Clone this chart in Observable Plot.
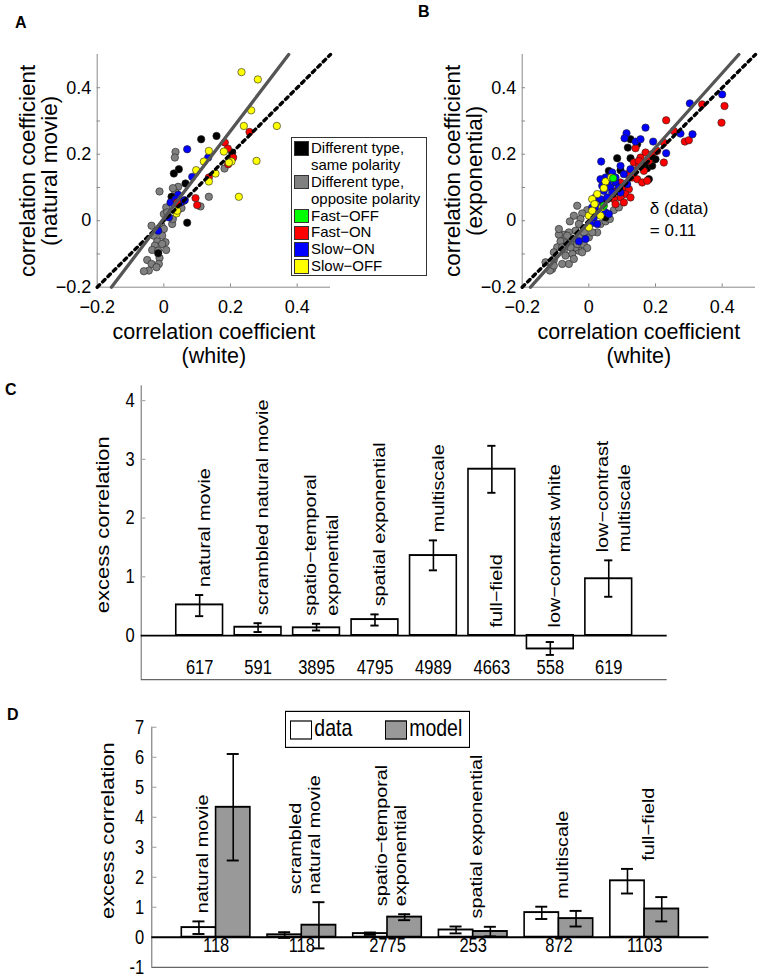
<!DOCTYPE html>
<html><head><meta charset="utf-8">
<script src="https://cdn.jsdelivr.net/npm/d3@7"></script>
<script src="https://cdn.jsdelivr.net/npm/@observablehq/plot@0.6"></script>
<style>
html,body{margin:0;padding:0;background:#fff;}
#page{position:relative;width:759px;height:977px;overflow:hidden;background:#fff;font-family:"Liberation Sans",Arial,Helvetica,sans-serif;color:#000;}
.letter{position:absolute;font-weight:bold;font-size:16px;line-height:1;}
</style></head><body><div id="page"></div>
<script>
// ---------------- DATA ----------------
const groupNames = ["Different type,\nsame polarity", "Different type,\nopposite polarity", "Fast−OFF", "Fast−ON", "Slow−ON", "Slow−OFF"];
const groupColors = ["#000000", "#808080", "#00ff00", "#ff0000", "#0000ff", "#ffff00"];

// Panel A: white vs natural movie correlation coefficients [x, y]
const aBlack = [[0.112,0.245],[0.158,0.255],[0.045,0.155],[0.03,0.142],[0.065,0.112],[0.07,-0.006],[0.023,0.072],[0.205,0.205],[-0.017,-0.098],[0.06,0.06]];
const aGray = [[0.035,0.207],[0.033,0.19],[-0.013,0.088],[0.043,0.102],[0.135,0.072],[0.182,0.157],[0.11,0.043],[0.033,0.052],[0.007,0.04],[0.025,-0.01],[0,0.02],[-0.037,-0.015],[-0.007,-0.015],[0,-0.025],[-0.03,-0.045],[-0.005,-0.045],[-0.02,-0.062],[0.005,-0.065],[-0.027,-0.075],[-0.005,-0.07],[0.007,-0.088],[-0.035,-0.088],[-0.017,-0.09],[-0.05,-0.118],[-0.013,-0.112],[-0.037,-0.13],[-0.015,-0.13],[-0.022,-0.14],[-0.045,-0.15],[-0.06,-0.152],[0.035,0.085],[0.027,0.098],[0.045,0.035],[0.01,0.025],[0.053,0.038],[0.027,0.005]];
const aGreen = [];
const aRed = [[0.257,0.267],[0.183,0.235],[0.192,0.217],[0.208,0.19],[0.193,0.17],[0.095,0.068],[0.10,0.047],[0.135,0.13],[0.04,0.055]];
const aBlue = [[0.07,0.215],[0.085,0.132],[0.133,0.19],[0.043,0.078],[0.063,0.062],[0.02,0.055],[0.015,0.01],[-0.017,-0.03],[0.05,0.055],[0.035,0.065]];
const aYellow = [[0.233,0.447],[0.282,0.425],[0.262,0.332],[0.24,0.285],[0.339,0.285],[0.135,0.21],[0.18,0.208],[0.12,0.178],[0.097,0.152],[0.155,0.142],[0.135,0.118],[0.203,0.178],[0.195,0.175],[0.278,0.18],[0.225,0.072],[0.038,0.022],[0.04,0.03]];
const fitA = {slope: 1.316, intercept: 0.007};

// Panel B: white vs exponential correlation coefficients [x, y]
const bBlack = [[0.085,0.188],[0.060,0.150],[0.125,0.188],[0.117,0.220],[0.145,0.230],[0.175,0.158],[0.180,0.125],[0.190,0.165],[0.095,0.152],[0.125,0.245],[0.010,0.020],[0.050,0.010],[0.040,0.060],[0.160,0.170],[0.200,0.185]];
const bGray = [[-0.035,0.045],[-0.005,0.032],[-0.020,0.022],[-0.025,0.005],[-0.045,0.015],[-0.057,-0.002],[-0.030,-0.010],[-0.010,-0.022],[-0.040,-0.030],[-0.060,-0.035],[-0.075,-0.042],[-0.090,-0.042],[-0.085,-0.062],[-0.065,-0.065],[-0.045,-0.058],[-0.025,-0.050],[-0.015,-0.072],[-0.005,-0.082],[-0.030,-0.090],[-0.050,-0.100],[-0.075,-0.090],[-0.095,-0.080],[-0.105,-0.095],[-0.105,-0.118],[-0.110,-0.145],[-0.117,-0.150],[-0.060,-0.130],[-0.045,-0.115],[-0.020,-0.095],[-0.040,-0.080],[-0.070,-0.105],[-0.080,-0.080],[-0.055,-0.080],[0.000,-0.050],[0.025,-0.035],[0.035,-0.010],[0.050,-0.002],[0.063,0.005],[0.075,0.032],[0.090,0.040],[0.010,-0.035],[-0.105,-0.135],[-0.130,-0.125],[-0.090,-0.025],[-0.015,-0.035],[-0.035,-0.070],[-0.065,-0.045],[-0.080,-0.130]];
const bGreen = [[0.073,0.128],[0.045,0.045]];
const bRed = [[0.407,0.345],[0.398,0.295],[0.340,0.350],[0.232,0.302],[0.255,0.270],[0.288,0.238],[0.300,0.242],[0.225,0.235],[0.225,0.175],[0.140,0.218],[0.170,0.205],[0.155,0.190],[0.135,0.175],[0.180,0.180],[0.150,0.165],[0.165,0.150],[0.115,0.140],[0.130,0.130],[0.145,0.125],[0.095,0.115],[0.105,0.100],[0.120,0.095],[0.085,0.090],[0.110,0.080],[0.095,0.070],[0.125,0.070],[0.105,0.055],[0.075,0.065],[0.160,0.115],[0.175,0.120],[0.080,0.050],[0.190,0.200],[0.205,0.210],[0.135,0.150],[0.150,0.180]];
const bBlue = [[0.400,0.380],[0.303,0.353],[0.311,0.260],[0.275,0.262],[0.232,0.203],[0.193,0.238],[0.170,0.280],[0.113,0.263],[0.107,0.248],[0.140,0.238],[0.155,0.245],[0.037,0.178],[0.095,0.165],[0.070,0.145],[0.050,0.130],[0.057,0.115],[0.080,0.115],[0.040,0.105],[0.065,0.100],[0.090,0.100],[0.045,0.090],[0.070,0.085],[0.020,0.070],[0.035,0.065],[0.055,0.070],[0.095,0.085],[0.115,0.110],[0.010,0.040],[0.030,0.040],[0.050,0.025],[0.015,0.010],[0.025,-0.010],[-0.010,-0.055],[-0.030,-0.062],[0.060,0.020],[0.080,0.130],[0.105,0.140],[0.125,0.155],[0.035,0.125],[0.005,-0.010]];
const bYellow = [[0.050,0.118],[0.067,0.130],[0.025,0.080],[0.010,0.065],[0.017,0.050],[0.040,0.040],[0.000,0.015],[0.035,0.015],[0.000,-0.020],[0.010,0.030],[0.045,0.098]];
const fitB = {slope: 1.12, intercept: -0.004};
const noteB = {text: "δ (data)\n= 0.11", x: 0.183, y: 0.008};

// Axis ticks for A and B
const scatterDomain = [-0.2, 0.5];
const scatterTickLabels = [-0.2, 0, 0.2, 0.4];
const scatterXTickMarks = [0, 0.2, 0.4];
const scatterYTickMarks = [-0.1, 0, 0.1, 0.2, 0.3, 0.4];

// Panel C
const cCategories = ["natural movie", "scrambled natural movie", "spatio−temporal\nexponential", "spatial exponential", "multiscale", "full−field", "low−contrast white", "low−contrast\nmultiscale"];
const cValues = [0.52, 0.14, 0.13, 0.27, 1.36, 2.83, -0.23, 0.965];
const cErrLow = [0.33, 0.06, 0.085, 0.17, 1.11, 2.43, -0.33, 0.66];
const cErrHigh = [0.69, 0.21, 0.20, 0.36, 1.62, 3.23, -0.11, 1.28];
const cN = [617, 591, 3895, 4795, 4989, 4663, 558, 619];
const cYTicks = [0, 1, 2, 3, 4];

// Panel D
const dCategories = ["natural movie", "scrambled\nnatural movie", "spatio−temporal\nexponential", "spatial exponential", "multiscale", "full−field"];
const dData = [0.32, 0.08, 0.12, 0.24, 0.82, 1.88];
const dDataLow = [0.11, -0.02, 0.08, 0.13, 0.61, 1.46];
const dDataHigh = [0.53, 0.17, 0.16, 0.36, 1.02, 2.28];
const dModel = [4.33, 0.40, 0.67, 0.19, 0.62, 0.94];
const dModelLow = [2.56, -0.37, 0.57, 0.03, 0.36, 0.53];
const dModelHigh = [6.11, 1.17, 0.77, 0.35, 0.88, 1.34];
const dN = [118, 118, 2775, 253, 872, 1103];
const dYTicks = [-1, 0, 1, 2, 3, 4, 5, 6, 7];
const dSeries = ["data", "model"];
const dSeriesFill = ["#ffffff", "#999999"];

// ---------------- DRAWING ----------------
const FONT = "'Liberation Sans', Arial, Helvetica, sans-serif";
const page = document.getElementById("page");
const S = 1.2; // vertical stretch of the lower panels

function put(node, left, top, parent = page) {
  node.style.position = "absolute";
  node.style.left = left + "px";
  node.style.top = top + "px";
  parent.appendChild(node);
  return node;
}
function letter(t, left, top) {
  const d = document.createElement("div");
  d.className = "letter"; d.textContent = t;
  put(d, left, top);
}

const fmt = d => d === 0 ? "0" : d3.format(".1f")(d);

function scatter({groups, fit, yTitle, width, marginLeft, marginRight, note}) {
  const lo = scatterDomain[0];
  const tickLen = 0.01;
  const marks = [
    Plot.ruleX([lo], {stroke: "#888", strokeWidth: 1}),
    Plot.ruleY([lo], {stroke: "#888", strokeWidth: 1}),
    Plot.ruleY(scatterYTickMarks, {y: d => d, x1: lo, x2: lo + tickLen, stroke: "#888"}),
    Plot.ruleX(scatterXTickMarks, {x: d => d, y1: lo, y2: lo + tickLen, stroke: "#888"})
  ];
  for (const g of groups) {
    marks.push(Plot.dot(g.points, {x: d => d[0], y: d => d[1], r: 3.7, fill: g.color, stroke: "#222", strokeWidth: 0.6}));
  }
  marks.push(Plot.line(scatterDomain.map(v => [v, v]), {x: d => d[0], y: d => d[1], stroke: "#000", strokeWidth: 3.4, strokeDasharray: "3.4,4.2"}));
  marks.push(Plot.line(scatterDomain.map(v => [(v - fit.intercept) / fit.slope, v]), {x: d => d[0], y: d => d[1], stroke: "#555", strokeWidth: 3.3}));
  marks.push(Plot.axisY(scatterTickLabels, {tickSize: 0, tickPadding: 6, tickFormat: fmt, fontSize: 18}));
  marks.push(Plot.axisX(scatterTickLabels, {tickSize: 0, tickPadding: 13.5, tickFormat: fmt, fontSize: 18}));
  marks.push(Plot.text(["correlation coefficient\n(white)"], {frameAnchor: "bottom", text: d => d, lineAnchor: "top", dy: 34.3, lineHeight: 1.12, fontSize: 21.5}));
  marks.push(Plot.text([yTitle], {frameAnchor: "left", text: d => d, rotate: -90, textAnchor: "middle", lineAnchor: "top", dx: -77, lineHeight: 0.95, fontSize: 22.5}));
  if (note) marks.push(Plot.text([note], {x: "x", y: "y", text: "text", textAnchor: "start", lineAnchor: "middle", lineHeight: 1.27, fontSize: 17}));
  return Plot.plot({
    width, height: 366, marginLeft, marginRight, marginTop: 54, marginBottom: 79.3,
    x: {domain: scatterDomain, label: null},
    y: {domain: scatterDomain, label: null},
    style: {background: "transparent", fontFamily: FONT, overflow: "visible"},
    marks
  });
}

const aGroups = [aGray, aBlack, aBlue, aRed, aYellow, aGreen].map((p, i) => ({points: p, color: groupColors[[1, 0, 4, 3, 5, 2][i]]}));
const bGroups = [bGray, bBlack, bRed, bBlue, bYellow, bGreen].map((p, i) => ({points: p, color: groupColors[[1, 0, 3, 4, 5, 2][i]]}));

put(scatter({groups: aGroups, fit: fitA, yTitle: "correlation coefficient\n(natural movie)", width: 345, marginLeft: 96.7, marginRight: 15}), 0, 0);
put(scatter({groups: bGroups, fit: fitB, yTitle: "correlation coefficient\n(exponential)", width: 379, marginLeft: 141.7, marginRight: 4, note: noteB}), 380, 0);

// Legend of panel A
{
  const box = document.createElement("div");
  Object.assign(box.style, {width: "136px", height: "139.5px", boxSizing: "border-box", border: "1px solid #333", background: "#fff", paddingTop: "2.2px", fontSize: "15px", zIndex: 5});
  groupNames.forEach((name, i) => {
    const row = document.createElement("div");
    Object.assign(row.style, {display: "flex", alignItems: "flex-start", lineHeight: "16.9px"});
    const sw = document.createElement("div");
    Object.assign(sw.style, {width: "14.7px", height: "14.7px", boxSizing: "border-box", border: "1px solid #333", background: groupColors[i], marginLeft: "2.3px", marginTop: "1.1px", flex: "none"});
    const tx = document.createElement("div");
    Object.assign(tx.style, {whiteSpace: "pre", marginLeft: "2px"});
    tx.textContent = name;
    row.appendChild(sw); row.appendChild(tx);
    box.appendChild(row);
  });
  put(box, 291, 136.7);
}

// ---- Panel C ----
function stretched(top, h) {
  const w = document.createElement("div");
  Object.assign(w.style, {width: "759px", height: h + "px", transform: `scaleY(${S})`, transformOrigin: "0 0"});
  return put(w, 0, top);
}
{
  const rows = cCategories.map((c, i) => ({pos: i + 1, text: c, value: cValues[i], lo: cErrLow[i], hi: cErrHigh[i]}));
  // labels sit above the error bar; when there is no room above, inside the bar from zero
  const labels = rows.map(r => ({pos: r.pos, text: r.text, y: r.hi > 3 ? 0 : Math.max(r.hi, 0)}));
  const cap = 0.07, sw = 1.6;
  const H = 261.5;
  const svg = Plot.plot({
    width: 759, height: H, marginLeft: 140.7, marginRight: 92.3, marginTop: 12.75, marginBottom: 4,
    x: {domain: [0, 9], label: null},
    y: {domain: [-0.75, 4.25], label: null},
    style: {background: "transparent", fontFamily: FONT, overflow: "visible"},
    marks: [
      Plot.ruleX([0], {stroke: "#666"}),
      Plot.ruleY([-0.75], {stroke: "#666"}),
      Plot.ruleY(cYTicks.slice(1), {y: d => d, x1: 0, x2: 0.08, stroke: "#aaa"}),
      Plot.rect(rows, {x1: d => d.pos - 0.4, x2: d => d.pos + 0.4, y1: 0, y2: "value", fill: "#fff", stroke: "#000", strokeWidth: sw}),
      Plot.ruleY([0], {stroke: "#000", strokeWidth: 1.4}),
      Plot.ruleX(rows, {x: "pos", y1: "lo", y2: "hi", stroke: "#000", strokeWidth: sw}),
      Plot.ruleY(rows, {y: "lo", x1: d => d.pos - cap, x2: d => d.pos + cap, stroke: "#000", strokeWidth: sw}),
      Plot.ruleY(rows, {y: "hi", x1: d => d.pos - cap, x2: d => d.pos + cap, stroke: "#000", strokeWidth: sw}),
      Plot.text(labels, {x: "pos", y: "y", text: "text", rotate: -90, textAnchor: "start", lineAnchor: "middle", dx: 3, dy: -6.7, fontSize: 16.5, lineHeight: 1.36}),
      Plot.axisY(cYTicks, {tickSize: 0, tickPadding: 6.4, fontSize: 16.5, tickFormat: d => String(d)}),
      Plot.axisX(rows.map(r => r.pos), {tickSize: 0, tickPadding: -10.25, lineAnchor: "middle", fontSize: 16.5, tickFormat: d => String(cN[d - 1])}),
      Plot.text(["excess correlation"], {frameAnchor: "left", text: d => d, rotate: -90, textAnchor: "middle", lineAnchor: "middle", dx: -37.7, dy: -6.7, fontSize: 18.3})
    ]
  });
  const w = stretched(370, H);
  w.appendChild(svg);
}

// ---- Panel D ----
{
  const bars = [];
  dCategories.forEach((c, i) => {
    const pos = i + 1;
    bars.push({pos, x1: pos - 0.4, x2: pos, xc: pos - 0.2, value: dData[i], lo: dDataLow[i], hi: dDataHigh[i], fill: dSeriesFill[0]});
    bars.push({pos, x1: pos, x2: pos + 0.4, xc: pos + 0.2, value: dModel[i], lo: dModelLow[i], hi: dModelHigh[i], fill: dSeriesFill[1]});
  });
  // label over both bars, or only over the data bar when the model bar towers above it
  const labels = dCategories.map((c, i) => {
    const overData = dModelHigh[i] - dDataHigh[i] > 2;
    return {x: overData ? i + 1 - 0.2 : i + 1, y: overData ? dDataHigh[i] : Math.max(dDataHigh[i], dModelHigh[i]), text: c};
  });
  const cap = 0.07, sw = 1.6;
  const H = 228.25;
  const svg = Plot.plot({
    width: 759, height: H, marginLeft: 151.3, marginRight: 50.6, marginTop: 22.25, marginBottom: 6,
    x: {domain: [0.25, 6.75], label: null},
    y: {domain: [-1, 7], label: null},
    style: {background: "transparent", fontFamily: FONT, overflow: "visible"},
    marks: [
      Plot.ruleX([0.25], {stroke: "#666"}),
      Plot.ruleY([-1], {stroke: "#666"}),
      Plot.ruleY(dYTicks.slice(2), {y: d => d, x1: 0.25, x2: 0.31, stroke: "#aaa"}),
      Plot.rect(bars, {x1: "x1", x2: "x2", y1: 0, y2: "value", fill: d => d.fill, stroke: "#000", strokeWidth: sw}),
      Plot.ruleY([0], {stroke: "#000", strokeWidth: 1.7}),
      Plot.ruleX(bars, {x: "xc", y1: "lo", y2: "hi", stroke: "#000", strokeWidth: sw}),
      Plot.ruleY(bars, {y: "lo", x1: d => d.xc - cap, x2: d => d.xc + cap, stroke: "#000", strokeWidth: sw}),
      Plot.ruleY(bars, {y: "hi", x1: d => d.xc - cap, x2: d => d.xc + cap, stroke: "#000", strokeWidth: sw}),
      Plot.text(labels, {x: "x", y: "y", text: "text", rotate: -90, textAnchor: "start", lineAnchor: "middle", dx: 3, dy: -6.7, fontSize: 16.5, lineHeight: 1.15}),
      Plot.axisY(dYTicks, {tickSize: 0, tickPadding: 7.7, fontSize: 16.5, tickFormat: d => String(d)}),
      Plot.axisX(dCategories.map((c, i) => i + 1), {tickSize: 0, tickPadding: -18.1, lineAnchor: "middle", fontSize: 16.5, tickFormat: d => String(dN[d - 1])}),
      Plot.text(["excess correlation"], {frameAnchor: "left", text: d => d, rotate: -90, textAnchor: "middle", lineAnchor: "middle", dx: -44, dy: -13.9, fontSize: 18.3})
    ]
  });
  const w = stretched(700, H);
  w.appendChild(svg);
  // legend
  const box = document.createElement("div");
  Object.assign(box.style, {width: "184.6px", height: "31.1px", boxSizing: "border-box", border: "1px solid #000", background: "#fff"});
  const swLeft = [3.7, 98.7], txLeft = [28, 122.9];
  dSeries.forEach((name, i) => {
    const s = document.createElement("div");
    Object.assign(s.style, {width: "22px", height: "16.1px", boxSizing: "border-box", border: "1px solid #000", background: dSeriesFill[i]});
    put(s, swLeft[i], 6.5, box);
    const t = document.createElement("div");
    Object.assign(t.style, {fontSize: "19.5px", lineHeight: "19.5px", whiteSpace: "pre"});
    t.textContent = name;
    put(t, txLeft[i], 3.6, box);
  });
  put(box, 285.3, 9.2, w);
}

letter("A", 15, 14.8);
letter("B", 418, 3.5);
letter("C", 5, 381.5);
letter("D", 7, 706.5);
</script></body></html>
